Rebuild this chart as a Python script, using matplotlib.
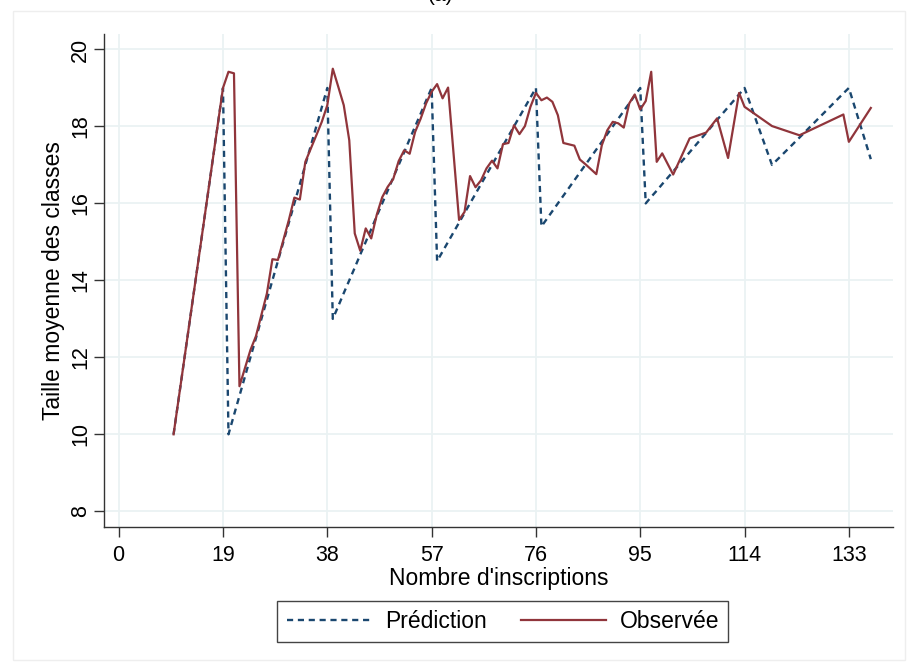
import matplotlib.pyplot as plt
from matplotlib.patches import Rectangle

# enrolment values present in the data
inscriptions = [10, 19, 20, 21, 22, 24, 25, 27, 28, 29, 31, 32, 33, 34, 36, 37, 38,
                39, 40, 41, 42, 43, 44, 45, 46, 47, 48, 49, 50, 51, 52, 53, 54, 55, 56, 57,
                58, 59, 60, 62, 63, 64, 65, 66, 67, 68, 69, 70, 71, 72, 73, 74, 75, 76,
                77, 78, 79, 80, 81, 83, 84, 85, 87, 88, 89, 90, 91, 92, 93, 94, 95,
                96, 97, 98, 99, 101, 104, 107, 109, 111, 113, 114,
                119, 124, 132, 133, 137]

prediction = [10, 19, 10, 10.5, 11, 12, 12.5, 13.5, 14, 14.5, 15.5, 16, 16.5, 17, 18, 18.5, 19,
              13, 13.33, 13.67, 14, 14.33, 14.67, 15, 15.33, 15.67, 16, 16.33, 16.67, 17, 17.33,
              17.67, 18, 18.33, 18.67, 19,
              14.5, 14.75, 15, 15.5, 15.75, 16, 16.25, 16.5, 16.75, 17, 17.25, 17.5, 17.75, 18,
              18.25, 18.5, 18.75, 19,
              15.4, 15.6, 15.8, 16, 16.2, 16.6, 16.8, 17, 17.4, 17.6, 17.8, 18, 18.2, 18.4, 18.6,
              18.8, 19,
              16, 16.17, 16.33, 16.5, 16.83, 17.33, 17.83, 18.17, 18.5, 18.83, 19,
              17, 17.71, 18.86, 19, 17.15]

observee = [10, 19, 19.42, 19.38, 11.25, 12.19, 12.55, 13.66, 14.55, 14.53, 15.57, 16.15, 16.1,
            17.08, 17.77, 18.12, 18.55,
            19.5, 19.03, 18.55, 17.64, 15.22, 14.77, 15.35, 15.09, 15.7, 16.16, 16.43, 16.63,
            17.1, 17.38, 17.29, 17.86, 18.2, 18.6, 18.9,
            19.1, 18.73, 19.01, 15.57, 15.78, 16.71, 16.42, 16.6, 16.91, 17.11, 16.91, 17.54,
            17.57, 18.03, 17.8, 18.01, 18.51, 18.87,
            18.68, 18.75, 18.64, 18.29, 17.57, 17.5, 17.14, 17.02, 16.76, 17.51, 17.9, 18.12,
            18.08, 17.97, 18.6, 18.83, 18.44,
            18.66, 19.42, 17.08, 17.3, 16.75, 17.69, 17.84, 18.21, 17.18, 18.87, 18.51,
            18.01, 17.77, 18.31, 17.6, 18.48]

x_ticks = [0, 19, 38, 57, 76, 95, 114, 133]
y_ticks = [8, 10, 12, 14, 16, 18, 20]

BLUE = "#1a476f"
RED = "#90353b"
GRID = "#eaf2f3"

plt.rcParams["font.family"] = ["Liberation Sans", "DejaVu Sans"]

fig = plt.figure(figsize=(9.11, 6.68), dpi=100)
fig.patches.append(Rectangle((13 / 911, 8 / 668), 892 / 911, 649 / 668,
                             transform=fig.transFigure, fill=False,
                             edgecolor="#eeeeee", linewidth=1))
# panel title, mostly above the top edge as in the source figure
fig.text(0.484, 0.993, "(a)", ha="center", va="bottom", fontsize=15)

ax = fig.add_axes([0.114, 0.211, 0.866, 0.738])

ax.plot(inscriptions, prediction, color=BLUE, linewidth=1.7, dashes=(2.6, 2.0),
        label="Prédiction")
ax.plot(inscriptions, observee, color=RED, linewidth=1.6, label="Observée")

ax.set_xlim(-2.7, 141)
ax.set_ylim(7.59, 20.4)
ax.set_xticks(x_ticks)
ax.set_yticks(y_ticks)
ax.set_yticklabels([str(v) for v in y_ticks], rotation=90, va="center")
ax.tick_params(axis="both", labelsize=15.5, length=7, width=1, color="#333333")
ax.tick_params(axis="x", pad=6)
ax.tick_params(axis="y", pad=2)
ax.grid(True, color=GRID, linewidth=1.3)
ax.set_axisbelow(True)

for side in ["top", "right"]:
    ax.spines[side].set_visible(False)
for side in ["left", "bottom"]:
    ax.spines[side].set_color("#333333")
    ax.spines[side].set_linewidth(1)

ax.set_xlabel("Nombre d'inscriptions", fontsize=16.5, labelpad=1)
ax.set_ylabel("Taille moyenne des classes", fontsize=16.5, labelpad=4)

leg = fig.legend(loc="center", bbox_to_anchor=(0.552, 0.070), ncol=2, fontsize=16.5,
                 handlelength=3.7, columnspacing=1.5, handletextpad=0.6,
                 fancybox=False, framealpha=1, borderpad=0.4)
leg.get_frame().set_edgecolor("#444444")
leg.get_frame().set_linewidth(1)

fig.savefig("out.png", dpi=100)
